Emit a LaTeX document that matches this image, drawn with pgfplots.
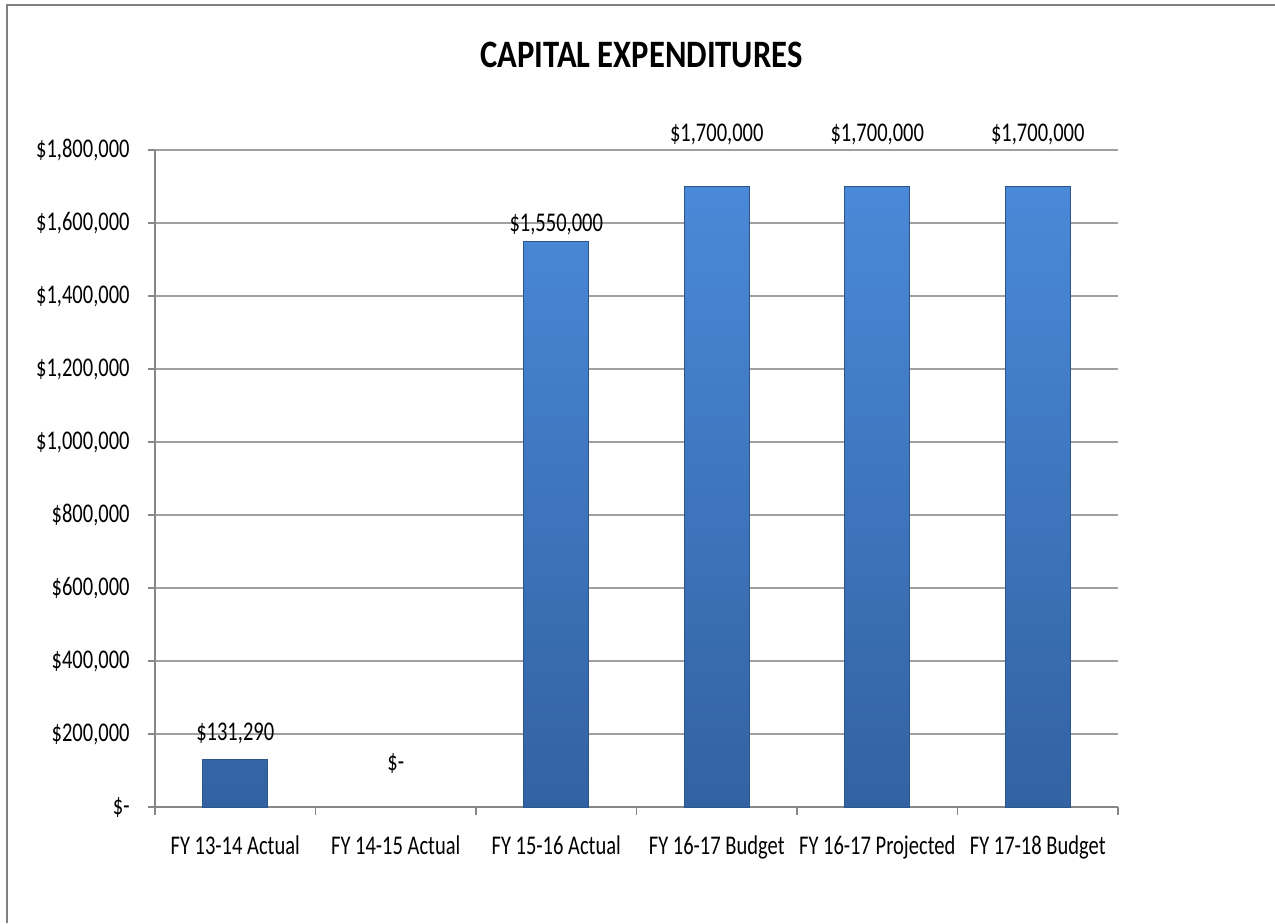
\documentclass[border=0pt]{standalone}
\usepackage{fontspec}
\setmainfont{Carlito}[FakeStretch=0.76, BoldFeatures={FakeStretch=0.84}]
\usepackage{pgfplots}
\usepackage{pgfplotstable}
\pgfplotsset{compat=1.18}
\definecolor{barTop}{RGB}{74,137,216}
\definecolor{barBot}{RGB}{50,98,162}
\definecolor{barEdge}{RGB}{44,85,140}
\definecolor{axisGray}{RGB}{134,134,134}
\definecolor{gridGray}{RGB}{160,160,160}
\definecolor{frameGray}{RGB}{128,128,128}
\pgfplotstableread{
x y
0 131290
1 0
2 1550000
3 1700000
4 1700000
5 1700000
}\bardata
\pgfplotstableread{
x ly lab
0 183560 \$131,290
1 101370 \$-
2 1576150 \$1,550,000
3 1824600 \$1,700,000
4 1824600 \$1,700,000
5 1824600 \$1,700,000
}\labdata
\newcommand\lblfont{\fontsize{13.5}{16}\selectfont}
\begin{document}
\begin{tikzpicture}[x=1pt,y=1pt]
\path[use as bounding box] (0,0) rectangle (637.5,461.5);
\draw[frameGray, line width=1pt] (3.5,0) -- (3.5,459) -- (637.5,459);
\node[font=\fontsize{19.4}{23}\selectfont\bfseries, anchor=base, inner sep=0pt] at (320.75,427.5) {CAPITAL EXPENDITURES};
\begin{axis}[
  at={(77.5pt,58pt)}, anchor=south west,
  scale only axis, width=481.5pt, height=328.5pt,
  xmin=-0.5, xmax=5.5, ymin=0, ymax=1800000,
  clip=false,
  axis lines*=left,
  axis line style={axisGray, line width=0.6pt},
  xtick={0,...,5},
  xticklabels={FY 13-14 Actual, FY 14-15 Actual, FY 15-16 Actual, FY 16-17 Budget, FY 16-17 Projected, FY 17-18 Budget},
  minor xtick={-0.5,0.5,...,5.5},
  major x tick style={draw=none},
  minor x tick style={axisGray, line width=0.6pt},
  ytick={0,200000,...,1800000},
  scaled y ticks=false,
  yticklabels={{\$-},{\$200,000},{\$400,000},{\$600,000},{\$800,000},{\$1,000,000},{\$1,200,000},{\$1,400,000},{\$1,600,000},{\$1,800,000}},
  y tick style={axisGray, line width=0.6pt},
  tick align=outside,
  major tick length=3.5pt,
  minor tick length=4pt,
  ymajorgrids,
  major grid style={gridGray, line width=0.6pt},
  ticklabel style={font=\lblfont},
  /pgf/number format/assume math mode=true,
  yticklabel style={inner sep=0pt, xshift=-9pt},
  xticklabel style={anchor=base, inner sep=0pt, yshift=-20pt},
]
\addplot[ybar, bar width=32.5pt, draw=barEdge, line width=0.4pt, top color=barTop, bottom color=barBot, restrict y to domain=1:3000000] table[x=x,y=y] {\bardata};
\addplot[draw=none, mark=none, nodes near coords, point meta=explicit symbolic,
  every node near coord/.style={anchor=base, inner sep=0pt, font=\lblfont, text=black}]
  table[x=x, y=ly, meta=lab] {\labdata};
\end{axis}
\end{tikzpicture}
\end{document}
